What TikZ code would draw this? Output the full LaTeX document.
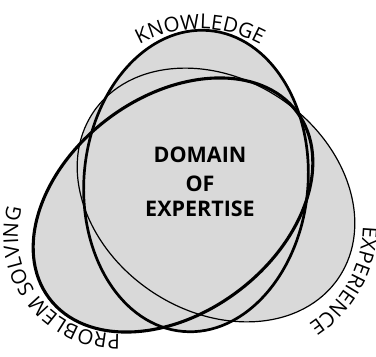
\documentclass[tikz,border=0pt]{standalone}
\usepackage{fontspec}
\setmainfont{Open Sans}
\usetikzlibrary{decorations.text}
\begin{document}
\begin{tikzpicture}[x=1pt,y=1pt,
  blobfill/.style={fill=black!15},
  thickline/.style={draw=black,line width=2.7pt},
  heavyline/.style={draw=black,line width=3.1pt},
  thinline/.style={draw=black,line width=1.2pt},
  centertext/.style={font=\bfseries\fontsize{21.5}{24}\selectfont,inner sep=0pt,anchor=base},
  arclabel/.style={decorate,decoration={text along path,text align=center,
     text={|\fontsize{20.5}{24}\selectfont|#1}}}
]
\useasboundingbox (0,0) rectangle (376,357);
% fills
\fill[blobfill] (216,162) circle[x radius=148,y radius=116,rotate=-34];
\fill[blobfill] (196,176) circle[x radius=112,y radius=151,rotate=-5];
\fill[blobfill] (173,152) circle[x radius=155,y radius=108,rotate=37];
% outlines
\draw[thinline] (216,162) circle[x radius=148,y radius=116,rotate=-34];
\draw[thickline] (196,176) circle[x radius=112,y radius=151,rotate=-5];
\draw[heavyline] (173,152) circle[x radius=155,y radius=108,rotate=37];
% centre text
\node[centertext] (t1) at (200,194) {DOMAIN};
\node[centertext] (t2) at (200,165) {OF};
\node[centertext] (t3) at (200,140) {EXPERTISE};
% arc labels
\path[arclabel=KNOWLEDGE] (200,202) ++(152:126) arc[start angle=152,end angle=28,radius=126];
\path[arclabel=PROBLEM SOLVING] (116,121) ++(292:98) arc[start angle=292,end angle=144,radius=98];
\path[arclabel=EXPERIENCE] (243,133) ++(12:120) arc[start angle=12,end angle=-70,radius=120];
\end{tikzpicture}
\end{document}
